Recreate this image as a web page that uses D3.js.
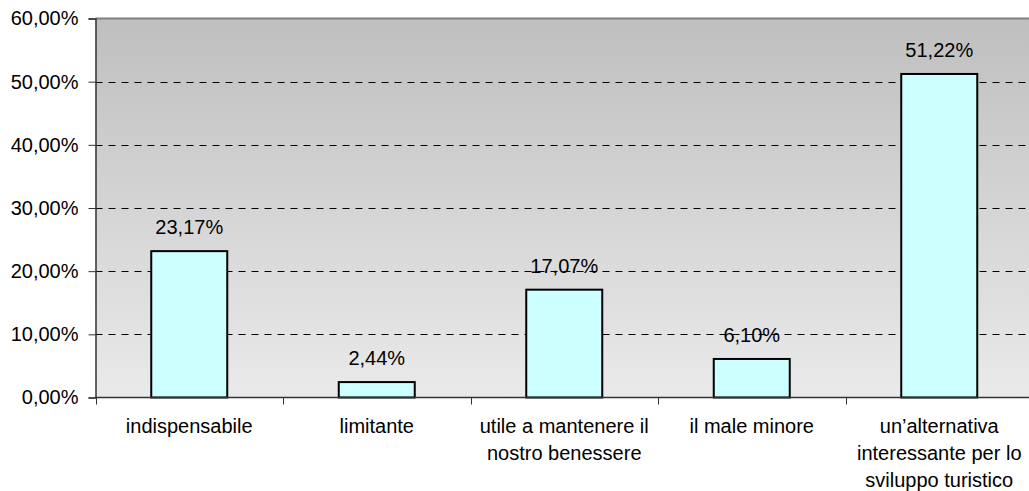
<!DOCTYPE html>
<html lang="it">
<head>
<meta charset="utf-8">
<title>chart</title>
<script src="https://cdn.jsdelivr.net/npm/d3@7"></script>
<style>
body{margin:0;background:#fff}
text{font-family:"Liberation Sans",Arial,sans-serif;fill:#000}
</style>
</head>
<body>
<div id="chart"></div>
<script>
var categories = [
  ["indispensabile"],
  ["limitante"],
  ["utile a mantenere il", "nostro benessere"],
  ["il male minore"],
  ["un\u2019alternativa", "interessante per lo", "sviluppo turistico"]
]
var values = [23.17, 2.44, 17.07, 6.10, 51.22]
var yTicks = [0, 10, 20, 30, 40, 50, 60]

var W = 1029, H = 491
var pLeft = 95.5, pRight = 1033, pTop = 18.5, pBottom = 397.5
var fs = "20px"

var it = d3.formatLocale({decimal: ",", thousands: ".", grouping: [3], currency: ["", "€"]})
var fmt = function(v){ return it.format(".2f")(v) + "%" }

var svg = d3.select("#chart").append("svg").attr("width", W).attr("height", H)

var grad = svg.append("defs").append("linearGradient")
  .attr("id", "bg").attr("x1", 0).attr("y1", 0).attr("x2", 0).attr("y2", 1)
grad.append("stop").attr("offset", "0%").attr("stop-color", "#bfbfbf")
grad.append("stop").attr("offset", "100%").attr("stop-color", "#eaeaea")

var x = d3.scaleBand().domain(d3.range(categories.length)).range([pLeft, pRight])
var y = d3.scaleLinear().domain([0, 60]).range([pBottom, pTop])

svg.append("rect").attr("x", pLeft).attr("y", pTop)
  .attr("width", pRight - pLeft).attr("height", pBottom - pTop)
  .attr("fill", "url(#bg)")

// top border
svg.append("line").attr("x1", pLeft).attr("x2", pRight).attr("y1", pTop).attr("y2", pTop)
  .attr("stroke", "#808080").attr("stroke-width", 2)

// dashed grid
svg.selectAll(".grid").data(yTicks.filter(function(d){ return d > 0 && d < 60 }))
  .enter().append("line")
  .attr("x1", pLeft).attr("x2", pRight)
  .attr("y1", function(d){ return Math.round(y(d)) + 0.5 })
  .attr("y2", function(d){ return Math.round(y(d)) + 0.5 })
  .attr("stroke", "#000").attr("stroke-dasharray", "7,6")

// bars
var bw = 76
svg.selectAll(".bar").data(values).enter().append("rect")
  .attr("x", function(d, i){ return x(i) + x.bandwidth()/2 - bw/2 })
  .attr("y", function(d){ return y(d) })
  .attr("width", bw)
  .attr("height", function(d){ return pBottom - y(d) })
  .attr("fill", "#ccffff").attr("stroke", "#000").attr("stroke-width", 2)

// value labels
svg.selectAll(".val").data(values).enter().append("text")
  .attr("x", function(d, i){ return x(i) + x.bandwidth()/2 })
  .attr("y", function(d){ return y(d) - 17 })
  .attr("text-anchor", "middle").attr("font-size", fs)
  .text(function(d){ return fmt(d) })

// y axis
var yAxis = d3.axisLeft(y).tickValues(yTicks).tickSize(7).tickPadding(10)
  .tickFormat(function(d){ return fmt(d) })
var gy = svg.append("g").attr("transform", "translate(" + pLeft + ",0)").call(yAxis)
gy.select(".domain").attr("stroke", "#333").attr("stroke-width", 1.5)
gy.selectAll(".tick line").attr("stroke", "#333")
gy.selectAll(".tick text").attr("font-size", fs).attr("font-family", "Liberation Sans, Arial, sans-serif").attr("fill", "#000")

// x axis
var xl = d3.scaleLinear().domain([0, categories.length]).range([pLeft, pRight])
var gx = svg.append("g").attr("transform", "translate(0," + pBottom + ")")
gx.append("line").attr("x1", pLeft).attr("x2", pRight).attr("stroke", "#333").attr("stroke-width", 1.5)
gx.selectAll(".xt").data(d3.range(categories.length + 1)).enter().append("line")
  .attr("x1", function(d){ return Math.round(xl(d)) + 0.5 })
  .attr("x2", function(d){ return Math.round(xl(d)) + 0.5 })
  .attr("y1", 0).attr("y2", 7).attr("stroke", "#333")

var labels = svg.selectAll(".cat").data(categories).enter().append("text")
  .attr("text-anchor", "middle").attr("font-size", fs)
  .attr("x", function(d, i){ return x(i) + x.bandwidth()/2 })
  .attr("y", 433)
labels.selectAll("tspan").data(function(d){ return d }).enter().append("tspan")
  .attr("x", function(){ return d3.select(this.parentNode).attr("x") })
  .attr("dy", function(d, i){ return i == 0 ? 0 : 27 })
  .text(function(d){ return d })
</script>
</body>
</html>
